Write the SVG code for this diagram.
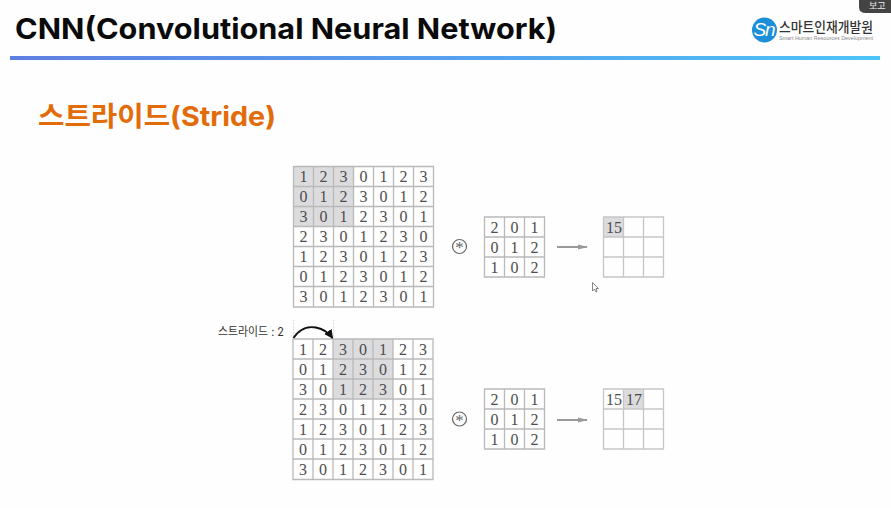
<svg xmlns="http://www.w3.org/2000/svg" width="891" height="508" viewBox="0 0 891 508">
<style>
.g{fill:none;stroke:#b9b9b9;stroke-width:1.3}
.r{fill:none;stroke:#c6c6c6;stroke-width:1.3}
.n{font-family:"Liberation Serif",serif;font-size:16px;fill:#4a4a4a;text-anchor:middle}
.d{opacity:.98}
.h{fill:#dcdcde}
.k{font-family:"Inter","Noto Sans CJK KR","Liberation Sans",sans-serif}
.ar{fill:none;stroke:#9a9a9a;stroke-width:2}
.c{fill:none;stroke:#666;stroke-width:1.2}
.st{font-family:"Liberation Serif",serif;font-size:17px;fill:#666;text-anchor:middle}
</style>
<defs>
<linearGradient id="rule" x1="0" x2="1" y1="0" y2="0"><stop offset="0" stop-color="#5f7fe2"/><stop offset="0.5" stop-color="#55a0ee"/><stop offset="1" stop-color="#4cc4f8"/></linearGradient>
<marker id="gh" markerWidth="6" markerHeight="6" refX="4.500" refY="2.500" orient="auto" markerUnits="strokeWidth"><path d="M0 1.200L5 2.500L0 3.800z" fill="#9a9a9a"/></marker>
<marker id="bh" markerWidth="6" markerHeight="6" refX="4.500" refY="2.500" orient="auto" markerUnits="strokeWidth"><path d="M0 0L5 2.500L0 5z" fill="#111"/></marker>
</defs>
<rect width="891" height="508" fill="#fefefe"/>
<g id="header">
<text class="k" x="15" y="39" font-size="29" font-weight="700" fill="#0a0a0a" textLength="542" lengthAdjust="spacingAndGlyphs">CNN(Convolutional Neural Network)</text>
<rect x="10" y="56" width="870" height="4" fill="url(#rule)"/>
<text class="k" x="38" y="126" font-size="27" font-weight="700" fill="#e36c0a" textLength="238" lengthAdjust="spacingAndGlyphs">스트라이드(Stride)</text>
</g>
<g id="tab"><path d="M859 0H891V13H866Q859 13 859 7z" fill="#444"/><text class="k" x="869" y="9" font-size="9" fill="#eee">보고</text></g>
<g id="logo">
<circle cx="764.500" cy="30" r="12.500" fill="#1d8fd8"/>
<text x="764" y="36" font-family="Liberation Sans,sans-serif" font-size="19" font-style="italic" letter-spacing="-1" fill="#fff" text-anchor="middle">Sn</text>
<text class="k" x="779" y="32" font-size="13.500" font-weight="500" fill="#333" textLength="94" lengthAdjust="spacingAndGlyphs">스마트인재개발원</text>
<text x="779" y="40" font-family="Liberation Sans,sans-serif" font-size="6" fill="#888" textLength="94" lengthAdjust="spacingAndGlyphs">Smart Human Resources Development</text>
</g>
<g id="grid-top" transform="translate(293.500 166.500)">
<rect class="h" width="60" height="60"/>
<path class="g" d="M0 0H140V140.500H0zM0 20H140M0 40H140M0 60H140M0 80H140M0 100H140M0 120H140M20 0V140.500M40 0V140.500M60 0V140.500M80 0V140.500M100 0V140.500M120 0V140.500"/>
<g class="n d">
<text x="10" y="15.500">1</text><text x="30" y="15.500">2</text><text x="50" y="15.500">3</text><text x="70" y="15.500">0</text><text x="90" y="15.500">1</text><text x="110" y="15.500">2</text><text x="130" y="15.500">3</text>
<text x="10" y="35.500">0</text><text x="30" y="35.500">1</text><text x="50" y="35.500">2</text><text x="70" y="35.500">3</text><text x="90" y="35.500">0</text><text x="110" y="35.500">1</text><text x="130" y="35.500">2</text>
<text x="10" y="55.500">3</text><text x="30" y="55.500">0</text><text x="50" y="55.500">1</text><text x="70" y="55.500">2</text><text x="90" y="55.500">3</text><text x="110" y="55.500">0</text><text x="130" y="55.500">1</text>
<text x="10" y="75.500">2</text><text x="30" y="75.500">3</text><text x="50" y="75.500">0</text><text x="70" y="75.500">1</text><text x="90" y="75.500">2</text><text x="110" y="75.500">3</text><text x="130" y="75.500">0</text>
<text x="10" y="95.500">1</text><text x="30" y="95.500">2</text><text x="50" y="95.500">3</text><text x="70" y="95.500">0</text><text x="90" y="95.500">1</text><text x="110" y="95.500">2</text><text x="130" y="95.500">3</text>
<text x="10" y="115.500">0</text><text x="30" y="115.500">1</text><text x="50" y="115.500">2</text><text x="70" y="115.500">3</text><text x="90" y="115.500">0</text><text x="110" y="115.500">1</text><text x="130" y="115.500">2</text>
<text x="10" y="135.500">3</text><text x="30" y="135.500">0</text><text x="50" y="135.500">1</text><text x="70" y="135.500">2</text><text x="90" y="135.500">3</text><text x="110" y="135.500">0</text><text x="130" y="135.500">1</text>
</g>
</g>
<g id="grid-bottom" transform="translate(293 339)">
<rect class="h" x="40" width="60" height="60"/>
<path class="g" d="M0 0H140V140.500H0zM0 20H140M0 40H140M0 60H140M0 80H140M0 100H140M0 120H140M20 0V140.500M40 0V140.500M60 0V140.500M80 0V140.500M100 0V140.500M120 0V140.500"/>
<g class="n d">
<text x="10" y="15.500">1</text><text x="30" y="15.500">2</text><text x="50" y="15.500">3</text><text x="70" y="15.500">0</text><text x="90" y="15.500">1</text><text x="110" y="15.500">2</text><text x="130" y="15.500">3</text>
<text x="10" y="35.500">0</text><text x="30" y="35.500">1</text><text x="50" y="35.500">2</text><text x="70" y="35.500">3</text><text x="90" y="35.500">0</text><text x="110" y="35.500">1</text><text x="130" y="35.500">2</text>
<text x="10" y="55.500">3</text><text x="30" y="55.500">0</text><text x="50" y="55.500">1</text><text x="70" y="55.500">2</text><text x="90" y="55.500">3</text><text x="110" y="55.500">0</text><text x="130" y="55.500">1</text>
<text x="10" y="75.500">2</text><text x="30" y="75.500">3</text><text x="50" y="75.500">0</text><text x="70" y="75.500">1</text><text x="90" y="75.500">2</text><text x="110" y="75.500">3</text><text x="130" y="75.500">0</text>
<text x="10" y="95.500">1</text><text x="30" y="95.500">2</text><text x="50" y="95.500">3</text><text x="70" y="95.500">0</text><text x="90" y="95.500">1</text><text x="110" y="95.500">2</text><text x="130" y="95.500">3</text>
<text x="10" y="115.500">0</text><text x="30" y="115.500">1</text><text x="50" y="115.500">2</text><text x="70" y="115.500">3</text><text x="90" y="115.500">0</text><text x="110" y="115.500">1</text><text x="130" y="115.500">2</text>
<text x="10" y="135.500">3</text><text x="30" y="135.500">0</text><text x="50" y="135.500">1</text><text x="70" y="135.500">2</text><text x="90" y="135.500">3</text><text x="110" y="135.500">0</text><text x="130" y="135.500">1</text>
</g>
</g>
<g id="stride-label">
<text class="k" x="218" y="335.500" font-size="12" fill="#333" textLength="66" lengthAdjust="spacingAndGlyphs">스트라이드 : 2</text>
</g>
<g id="op-top"><circle class="c" cx="459.500" cy="246.500" r="7"/><text class="st" x="459.500" y="253">*</text></g>
<g id="op-bottom"><circle class="c" cx="459.500" cy="419" r="7"/><text class="st" x="459.500" y="425.500">*</text></g>
<g id="kernel-top" transform="translate(484.500 217)">
<path class="g" d="M0 0H60V60H0zM0 20H60M0 40H60M20 0V60M40 0V60"/>
<g class="n d"><text x="10" y="15.500">2</text><text x="30" y="15.500">0</text><text x="50" y="15.500">1</text><text x="10" y="35.500">0</text><text x="30" y="35.500">1</text><text x="50" y="35.500">2</text><text x="10" y="55.500">1</text><text x="30" y="55.500">0</text><text x="50" y="55.500">2</text></g>
</g>
<g id="kernel-bottom" transform="translate(484.500 389)">
<path class="g" d="M0 0H60V60H0zM0 20H60M0 40H60M20 0V60M40 0V60"/>
<g class="n d"><text x="10" y="15.500">2</text><text x="30" y="15.500">0</text><text x="50" y="15.500">1</text><text x="10" y="35.500">0</text><text x="30" y="35.500">1</text><text x="50" y="35.500">2</text><text x="10" y="55.500">1</text><text x="30" y="55.500">0</text><text x="50" y="55.500">2</text></g>
</g>
<g id="result-top" transform="translate(603.500 217)">
<rect class="h" width="20" height="20"/>
<path class="r" d="M0 0H60V60H0zM0 20H60M0 40H60M20 0V60M40 0V60"/>
<g class="n d"><text x="10.500" y="15.500">15</text></g>
</g>
<g id="result-bottom" transform="translate(603.500 389)">
<rect class="h" x="20" width="20" height="20"/>
<path class="r" d="M0 0H60V60H0zM0 20H60M0 40H60M20 0V60M40 0V60"/>
<g class="n d"><text x="10.500" y="15.500">15</text><text x="30.500" y="15.500">17</text></g>
</g>
<g id="connectors">
<path class="ar" d="M557 247H587" marker-end="url(#gh)"/>
<path class="ar" d="M557 420H587" marker-end="url(#gh)"/>
<path d="M293.500 320V338M333.500 320V338" fill="none" stroke="#d4d4d4" stroke-width="1" stroke-dasharray="1.500 1.500"/>
<path d="M293.500 338C300 328 309 326 316 327.500C323 329 329 333 332.500 338" fill="none" stroke="#111" stroke-width="1.800" marker-end="url(#bh)"/>
</g>
<g id="cursor"><path d="M592.500 282.500V291L594.500 289L596 292L597 291.500L596 288.500L598.500 288.500z" fill="#fff" stroke="#555" stroke-width="0.700"/></g>
</svg>
